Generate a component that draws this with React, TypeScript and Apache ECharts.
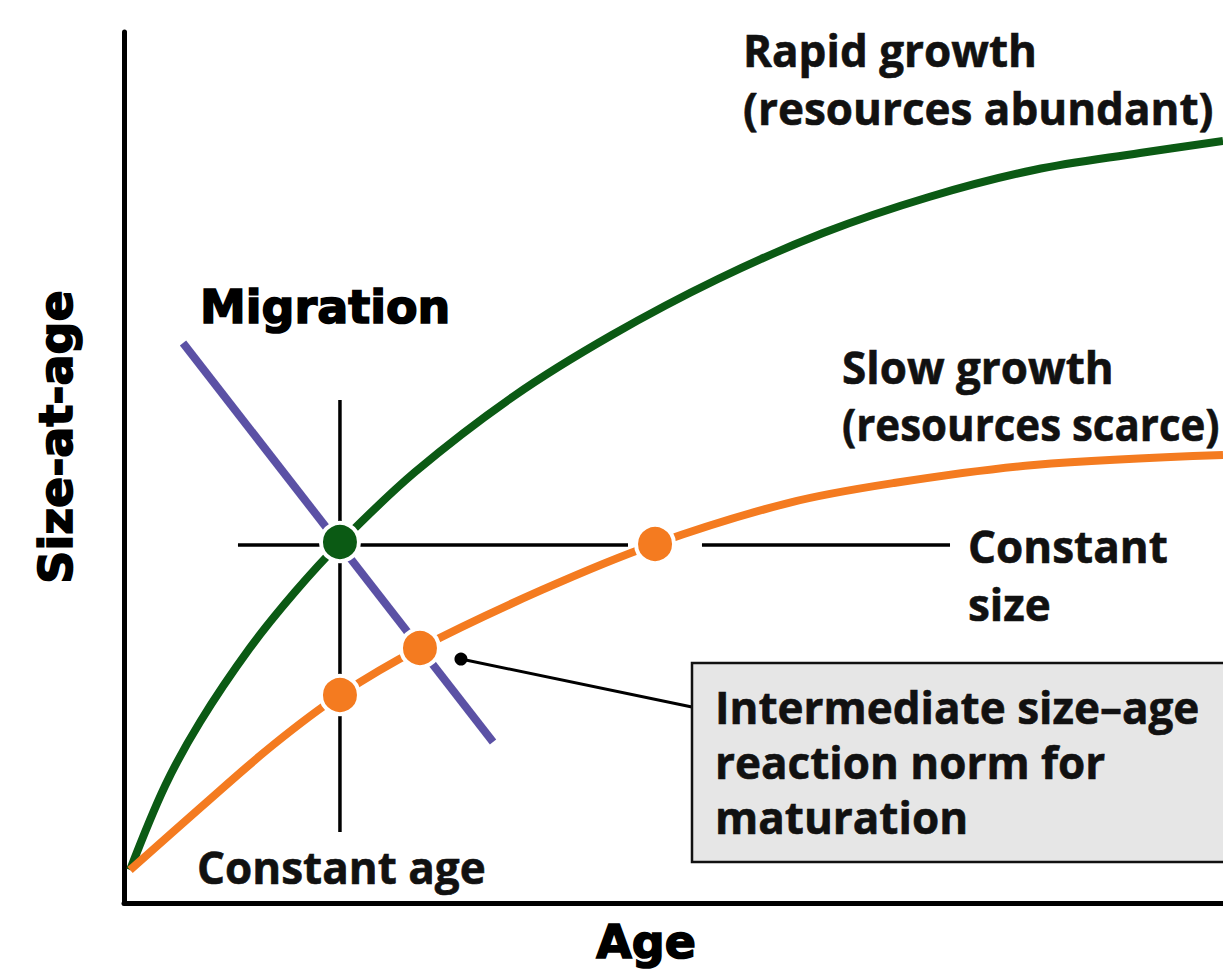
import React, { useEffect, useRef } from "react";
import * as echarts from "echarts";

// Schematic data (x = age, y = size-at-age, 0-100 scale)
const rapidGrowth: number[][] = [
  [0.55, 3.79], [3.73, 13.43], [6.92, 20.78], [11.46, 29.28], [15.56, 35.71],
  [19.65, 41.33], [26.48, 49.48], [35.49, 58.21], [44.4, 65.21], [54.05, 71.64],
  [63.6, 76.92], [73.25, 81.06], [82.8, 84.16], [92.45, 86.11], [100, 87.49],
];
const slowGrowth: number[][] = [
  [0.55, 3.79], [6.92, 10.91], [13.56, 18.14], [19.65, 23.88],
  [26.93, 29.28], [38.03, 35.94], [48.32, 41.22], [60.42, 45.92], [70.06, 48.22],
  [82.8, 50.29], [100, 51.43],
];
const migrationNorm: number[][] = [[5.37, 64.29], [33.58, 18.48]];
const constantAgeLine: number[][] = [[19.65, 8.15], [19.65, 57.75]];
const constantSizeLeft: number[][] = [[10.37, 41.1], [45.86, 41.1]];
const constantSizeRight: number[][] = [[52.59, 41.1], [75.16, 41.1]];
const rapidPoint: number[][] = [[19.65, 41.45]];
const slowPoints: number[][] = [[19.65, 23.88], [26.93, 29.28], [48.32, 41.22]];
const leaderLine: number[][] = [[30.66, 28.01], [51.68, 22.5]];

const rapidLabel = ["Rapid growth", "(resources abundant)"];
const slowLabel = ["Slow growth", "(resources scarce)"];
const sizeLabel = ["Constant", "size"];
const ageLabel = "Constant age";
const migrationLabel = "Migration";
const normLabel = ["Intermediate size\u2013age", "reaction norm for", "maturation"];
const xName = "Age";
const yName = "Size-at-age";

const GREEN = "#0b5a14";
const ORANGE = "#f47b20";
const PURPLE = "#5b51a5";

const bodyFont = "bold 44px 'Open Sans'";
const heavyFont = "bold 46px 'DejaVu Sans'";

function seg(data: number[][], color: string, width: number, z: number, smooth: number | boolean = false) {
  return {
    type: "line",
    data,
    symbol: "none",
    showSymbol: false,
    smooth,
    silent: true,
    z,
    lineStyle: { color, width, cap: "butt" },
  };
}

function txt(text: string, x: number, y: number, font: string, extra: any = {}) {
  const { styleExtra, align, ...rest } = extra;
  return {
    type: "text",
    x,
    y,
    z: 100,
    silent: true,
    ...rest,
    style: {
      text,
      font,
      fill: "#111",
      stroke: "#111",
      lineWidth: 0.6,
      align: align || "left",
      verticalAlign: "middle",
      ...(styleExtra || {}),
    },
  };
}

const heavyStroke = { styleExtra: { stroke: "#000", lineWidth: 1.6, fill: "#000" } };

export default function App() {
  const ref = useRef<HTMLDivElement>(null);
  useEffect(() => {
    if (!ref.current) return;
    const chart = echarts.init(ref.current, undefined, { renderer: "svg" });
    chart.setOption({
      animation: false,
      backgroundColor: "#fff",
      grid: { left: 124, top: 32, width: 1099, height: 871, containLabel: false },
      xAxis: {
        type: "value", min: 0, max: 100,
        axisLine: { show: true, onZero: false, lineStyle: { color: "#000", width: 5 } },
        axisTick: { show: false }, axisLabel: { show: false }, splitLine: { show: false },
      },
      yAxis: {
        type: "value", min: 0, max: 100,
        axisLine: { show: true, onZero: false, lineStyle: { color: "#000", width: 5 } },
        axisTick: { show: false }, axisLabel: { show: false }, splitLine: { show: false },
      },
      series: [
        seg(constantAgeLine, "#000", 3.5, 1),
        seg(constantSizeLeft, "#000", 3.5, 1),
        seg(constantSizeRight, "#000", 3.5, 1),
        seg(leaderLine, "#000", 3, 1),
        seg(migrationNorm, PURPLE, 8, 2),
        seg(rapidGrowth, GREEN, 8, 3, 0.35),
        seg(slowGrowth, ORANGE, 8, 3, 0.35),
        {
          type: "scatter", data: rapidPoint, symbolSize: 38, silent: true, z: 10,
          itemStyle: { color: GREEN, borderColor: "#fff", borderWidth: 4, opacity: 1 },
        },
        {
          type: "scatter", data: slowPoints, symbolSize: 38, silent: true, z: 10,
          itemStyle: { color: ORANGE, borderColor: "#fff", borderWidth: 4, opacity: 1 },
        },
        {
          type: "scatter", data: [leaderLine[0]], symbolSize: 13, silent: true, z: 10,
          itemStyle: { color: "#000", opacity: 1 },
        },
      ],
      graphic: [
        {
          type: "rect", z: 50, silent: true,
          shape: { x: 692, y: 663, width: 560, height: 199 },
          style: { fill: "#e6e6e6", stroke: "#111", lineWidth: 2.5 },
        },
        txt(rapidLabel[0], 743, 50, bodyFont),
        txt(rapidLabel[1], 743, 108, bodyFont),
        txt(slowLabel[0], 842, 367, bodyFont),
        txt(slowLabel[1], 842, 424, bodyFont, { scaleX: 0.955 }),
        txt(sizeLabel[0], 968, 546, bodyFont),
        txt(sizeLabel[1], 968, 604, bodyFont),
        txt(ageLabel, 197, 867, bodyFont),
        txt(normLabel[0], 715, 707, bodyFont),
        txt(normLabel[1], 715, 762, bodyFont),
        txt(normLabel[2], 715, 817, bodyFont),
        txt(migrationLabel, 200, 307, heavyFont, heavyStroke),
        txt(xName, 646, 942, heavyFont, { align: "center", ...heavyStroke }),
        txt(yName, 56, 437, heavyFont, { align: "center", rotation: Math.PI / 2, ...heavyStroke }),
      ],
    });
    return () => chart.dispose();
  }, []);
  return (
    <div
      ref={ref}
      style={{ position: "absolute", left: 0, top: 0, width: 1223, height: 970, background: "#fff" }}
    />
  );
}
